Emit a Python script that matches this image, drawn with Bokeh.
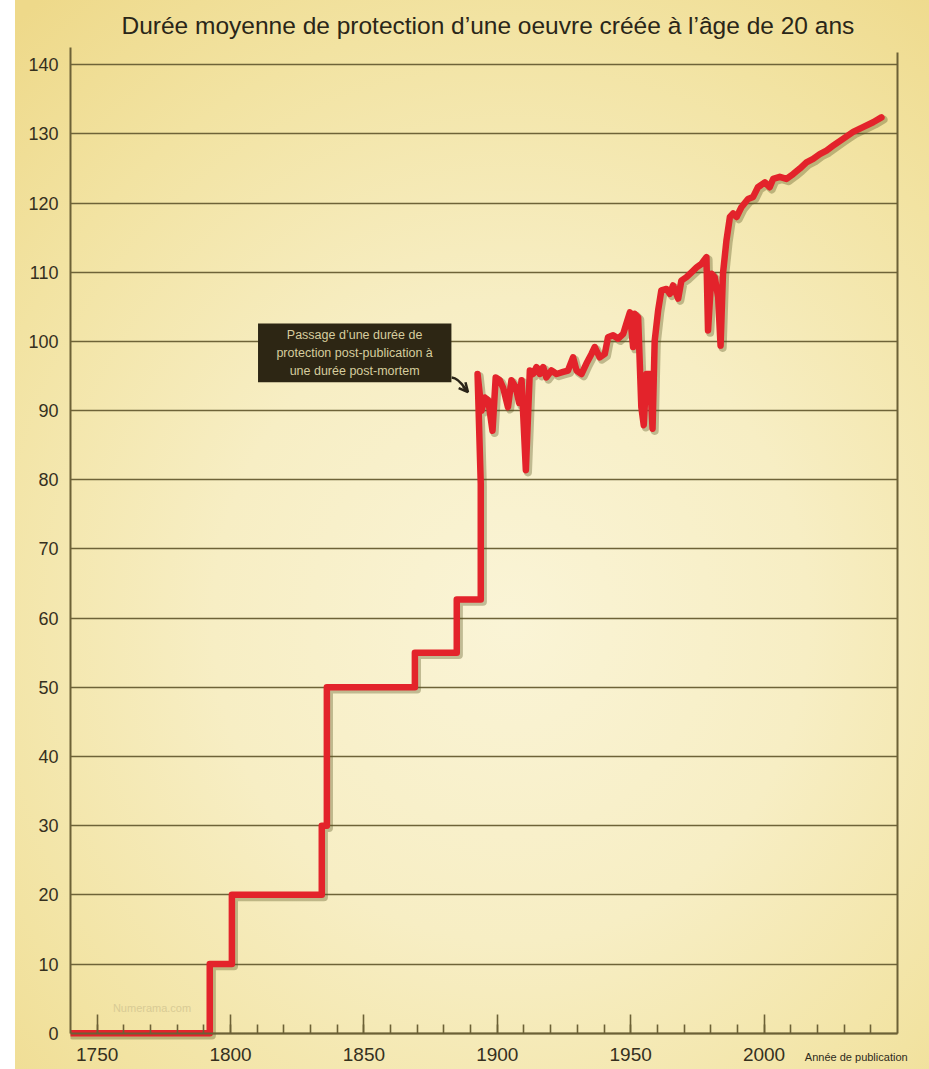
from bokeh.plotting import figure
from bokeh.models import Range1d, FixedTicker, LinearAxis, BoxAnnotation, Label, Arrow, OpenHead
from bokeh.embed import file_html
from bokeh.resources import INLINE

# ---------------- data ----------------
years = [1740, 1792.2, 1792.2, 1800.5, 1800.5, 1834.2, 1834.2, 1836.1, 1836.1,
         1869.1, 1869.1, 1884.8, 1884.8, 1893.8, 1893.8, 1892.6,
         1894.1, 1895.3, 1896.6, 1898.2, 1899.4, 1900.9, 1902.2, 1904.0, 1905.3,
         1906.9, 1908.2, 1909.1, 1910.7, 1912.2, 1913.4, 1914.7, 1915.9, 1917.2,
         1918.4, 1920.3, 1922.2, 1924.7, 1926.5, 1928.4, 1929.7, 1931.6, 1933.4,
         1935.3, 1936.5, 1938.4, 1940.3, 1941.5, 1943.4, 1945.3, 1947.2, 1948.4,
         1949.7, 1950.9, 1951.5, 1952.8, 1954.0, 1954.9, 1955.9, 1957.2, 1958.2,
         1959.0, 1960.3, 1961.5, 1963.4, 1964.7, 1965.9, 1967.8, 1969.0, 1970.9,
         1972.8, 1974.7, 1976.5, 1978.4, 1979.0, 1980.3, 1981.5, 1982.8, 1983.7,
         1984.6, 1985.9, 1987.2, 1988.4, 1989.7, 1991.5, 1994.0, 1995.9, 1997.7,
         2000.3, 2002.1, 2003.4, 2005.9, 2008.4, 2010.9, 2013.4, 2015.9, 2018.4,
         2020.9, 2023.4, 2025.9, 2029.6, 2033.4, 2037.1, 2040.9, 2044.0]
durations = [0, 0, 10, 10, 20, 20, 30, 30, 50,
             50, 55, 55, 62.7, 62.7, 79.4, 95.3,
             90.0, 91.9, 91.5, 87.1, 94.8, 94.4, 93.3, 90.5, 94.4,
             93.4, 91.1, 94.4, 81.4, 95.8, 95.3, 96.3, 95.3, 96.3,
             94.8, 95.8, 95.3, 95.6, 95.8, 97.7, 95.8, 95.3, 96.8,
             98.2, 99.2, 97.7, 98.2, 100.6, 100.9, 100.4, 101.1, 102.6,
             104.2, 99.2, 104.0, 103.5, 90.5, 87.9, 95.3, 95.3, 87.4,
             100.1, 104.5, 107.4, 107.6, 106.9, 108.1, 106.2, 108.8, 109.3,
             110.0, 110.7, 111.2, 112.2, 101.6, 109.8, 109.3, 106.4, 99.4,
             109.8, 114.6, 118.0, 118.5, 118.0, 119.4, 120.6, 120.9, 122.3,
             123.0, 122.3, 123.5, 123.8, 123.5, 124.2, 125.0, 125.9, 126.4,
             127.1, 127.6, 128.3, 129.3, 130.3, 131.0, 131.7, 132.4]

x_major_ticks = [1750, 1800, 1850, 1900, 1950, 2000]
x_minor_ticks = list(range(1750, 2050, 10))
y_ticks = list(range(0, 150, 10))

title_text = "Durée moyenne de protection d’une oeuvre créée à l’âge de 20 ans"
x_axis_text = "Année de publication"
note_lines = ["Passage d’une durée de", "protection post-publication à", "une durée post-mortem"]
watermark_text = "Numerama.com"

# ---------------- styling ----------------
RED = "#e3232b"
AX = "#6c6136"
GRID = "#6e6338"
TXT = "#35301e"
FONT = "Liberation Sans"

X_AXIS_START, X_AXIS_END = 1740, 2050      # drawn axis extent
X0, X1 = 1740, 2059.4                       # view range (room for the caption)
Y0, Y1 = -5.25, 142.5

p = figure(width=929, height=1069,
           x_range=Range1d(X0, X1), y_range=Range1d(Y0, Y1),
           output_backend="svg", toolbar_location=None,
           min_border_left=70, min_border_right=7, min_border_top=47, min_border_bottom=0,
           background_fill_color=None, border_fill_color=None, outline_line_color=None)
p.styles = {"background": "linear-gradient(to right, #ffffff 0px, #ffffff 15px, rgba(255,255,255,0) 15px), "
                          "radial-gradient(ellipse 80% 75% at 55% 58%, #faf4d6 0%, #f7eec4 40%, #f2e3a2 75%, #eed98a 100%)"}

# title
p.title.text = title_text
p.title.align = "left"
p.title.offset = 51
p.title.text_font = FONT
p.title.text_font_size = "24.5px"
p.title.text_font_style = "normal"
p.title.text_color = "#2a2618"
p.title.standoff = 17

# x axis (crossing at y = 0)
xa = p.xaxis[0]
xa.ticker = FixedTicker(ticks=x_major_ticks, minor_ticks=x_minor_ticks)
xa.fixed_location = 0
xa.bounds = (X_AXIS_START, X_AXIS_END)
xa.axis_line_color = AX
xa.axis_line_width = 2
xa.major_tick_in = 19
xa.major_tick_out = 0
xa.major_tick_line_color = AX
xa.major_tick_line_width = 1.6
xa.minor_tick_in = 9
xa.minor_tick_out = 0
xa.minor_tick_line_color = AX
xa.minor_tick_line_width = 1.6
xa.major_label_standoff = 15
xa.major_label_text_font = FONT
xa.major_label_text_font_size = "19px"
xa.major_label_text_color = TXT

# y axis
ya = p.yaxis[0]
ya.ticker = FixedTicker(ticks=y_ticks)
ya.bounds = (0, Y1)
ya.axis_line_color = AX
ya.axis_line_width = 2
ya.major_tick_in = 0
ya.major_tick_out = 0
ya.minor_tick_line_color = None
ya.major_label_standoff = 12
ya.major_label_text_font = FONT
ya.major_label_text_font_size = "18px"
ya.major_label_text_color = TXT

# right frame line at the end of the axis
ra = LinearAxis(ticker=FixedTicker(ticks=[]), major_label_text_font_size="0px",
                major_tick_line_color=None, minor_tick_line_color=None,
                major_tick_out=0, major_label_standoff=0,
                axis_line_color=AX, axis_line_width=2,
                fixed_location=X_AXIS_END, bounds=(0, 141.8))
p.add_layout(ra, "right")

p.xgrid.visible = False
p.ygrid.ticker = FixedTicker(ticks=y_ticks)
p.ygrid.cross_bounds = (X_AXIS_START, X_AXIS_END)
p.ygrid.grid_line_color = GRID
p.ygrid.grid_line_width = 1.6

# shadow of the curve (same data, ranges shifted by ~2px)
p.extra_x_ranges = {"sh": Range1d(X0 - 0.8, X1 - 0.8)}
p.extra_y_ranges = {"sh": Range1d(Y0 + 0.33, Y1 + 0.33)}
p.line(years, durations, x_range_name="sh", y_range_name="sh",
       line_color="#55521f", line_alpha=0.35, line_width=8,
       line_join="round", line_cap="round")
p.line(years, durations, line_color=RED, line_width=6.5,
       line_join="round", line_cap="round")

# annotation box
p.add_layout(BoxAnnotation(left=1810.3, right=1882.8, bottom=94.1, top=102.6,
                           fill_color="#2d2614", fill_alpha=1.0, line_color=None))
for txt, yy in zip(note_lines, [100.9, 98.35, 95.8]):
    p.add_layout(Label(x=1846.5, y=yy, text=txt, text_align="center", text_baseline="middle",
                       text_font=FONT, text_font_size="12.5px", text_color="#d6cd9e"))
p.bezier(x0=[1882.9], y0=[94.8], x1=[1888.2], y1=[93.05],
         cx0=[1885.6], cy0=[94.7], cx1=[1887.2], cy1=[93.6],
         line_color="#2a2418", line_width=2.5)
p.add_layout(Arrow(end=OpenHead(size=9, line_width=2.5, line_color="#2a2418"),
                   x_start=1887.2, y_start=93.5, x_end=1889.0, y_end=92.7,
                   line_color="#2a2418", line_width=2.5))

# watermark & axis caption
p.add_layout(Label(x=1755.9, y=3.64, text=watermark_text, text_align="left", text_baseline="middle",
                   text_font=FONT, text_font_size="11px", text_color="#d8cb95"))
p.add_layout(Label(x=2015.3, y=-3.47, text=x_axis_text, text_align="left", text_baseline="middle",
                   text_font=FONT, text_font_size="11px", text_color="#2e2a1c"))

open("out.html", "w").write(file_html(p, INLINE))
